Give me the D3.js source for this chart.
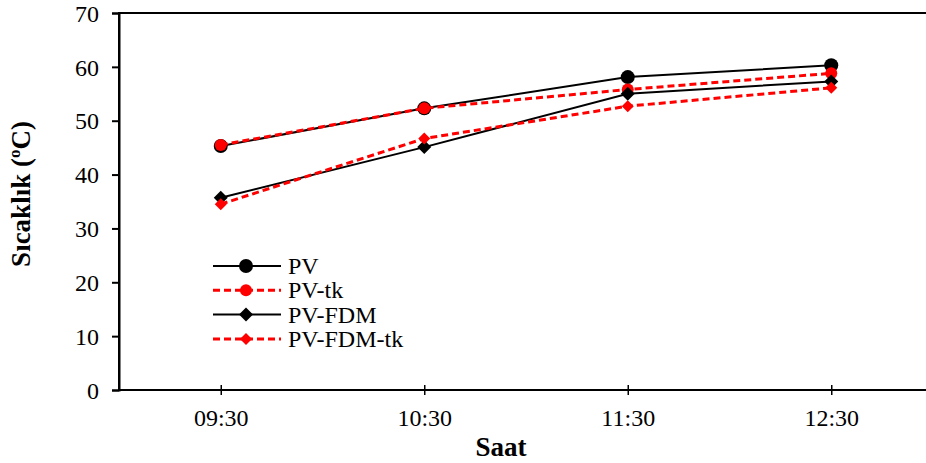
<!DOCTYPE html>
<html>
<head>
<meta charset="utf-8">
<script src="https://cdn.jsdelivr.net/npm/d3@7"></script>
<style>
  body { margin: 0; background: #fff; }
  svg { display: block; }
  svg text { font-family: "Liberation Serif", "Times New Roman", serif; fill: #000; }
</style>
</head>
<body>
<svg id="chart" width="926" height="463"></svg>
<script>
const hours = ['09:30', '10:30', '11:30', '12:30'];
const pv = [45.3, 52.3, 58.1, 60.3];
const pvTk = [45.5, 52.3, 55.8, 58.8];
const pvFdm = [35.7, 45.1, 55.0, 57.3];
const pvFdmTk = [34.5, 46.7, 52.7, 56.1];
const yTicks = [0, 10, 20, 30, 40, 50, 60, 70];

const series = [
  { name: 'PV', values: pv, color: '#000', dash: null, width: 2, shape: 'circle', size: 7 },
  { name: 'PV-tk', values: pvTk, color: '#ff0000', dash: '7,4', width: 3, shape: 'circle', size: 6 },
  { name: 'PV-FDM', values: pvFdm, color: '#000', dash: null, width: 2, shape: 'diamond', size: 7 },
  { name: 'PV-FDM-tk', values: pvFdmTk, color: '#ff0000', dash: '7,4', width: 3, shape: 'diamond', size: 6 },
];

const margin = { top: 13, right: -7, bottom: 73, left: 119 };
const svg = d3.select('#chart');
const width = +svg.attr('width') - margin.left - margin.right;
const height = +svg.attr('height') - margin.top - margin.bottom;
const g = svg.append('g').attr('transform', `translate(${margin.left}, ${margin.top})`);

const x = d3.scalePoint().domain(hours).range([0, width]).padding(0.5);
const y = d3.scaleLinear().domain([0, 70]).range([height, 0]);

// frame
g.append('rect')
  .attr('width', width)
  .attr('height', height)
  .attr('fill', 'none')
  .attr('stroke', '#000')
  .attr('stroke-width', 2);

const yAxis = g.append('g')
  .call(d3.axisLeft(y).tickValues(yTicks).tickSize(7).tickPadding(13));
yAxis.select('.domain').attr('stroke-width', 2);
yAxis.selectAll('.tick line').attr('stroke-width', 2);
yAxis.selectAll('.tick text')
  .attr('font-family', 'Liberation Serif')
  .attr('font-size', 24)
  .attr('dy', '0.34em');

const xAxis = g.append('g')
  .attr('transform', `translate(0, ${height})`)
  .call(d3.axisBottom(x).tickSize(5).tickPadding(14));
xAxis.select('.domain').remove();
xAxis.selectAll('.tick line').attr('y1', -5).attr('stroke-width', 1.5);
xAxis.selectAll('.tick text')
  .attr('font-family', 'Liberation Serif')
  .attr('font-size', 24);

g.append('line')
  .attr('x1', 0).attr('x2', width)
  .attr('y1', height).attr('y2', height)
  .attr('stroke', '#000')
  .attr('stroke-width', 2);

// axis titles
svg.append('text')
  .attr('x', 501)
  .attr('y', 456)
  .attr('text-anchor', 'middle')
  .attr('font-size', 27)
  .attr('font-weight', 'bold')
  .text('Saat');

const yTitle = svg.append('text')
  .attr('transform', 'translate(30, 194) rotate(-90)')
  .attr('text-anchor', 'middle')
  .attr('font-size', 27)
  .attr('font-weight', 'bold');
yTitle.append('tspan').text('Sıcaklık (');
yTitle.append('tspan').attr('font-size', 17).attr('dy', -10).text('o');
yTitle.append('tspan').attr('dy', 10).text('C)');

const line = d3.line()
  .x((d, i) => x(hours[i]))
  .y(d => y(d));

function drawMarker(sel, s, cx, cy) {
  if (s.shape === 'circle') {
    sel.append('circle')
      .attr('cx', cx).attr('cy', cy).attr('r', s.size)
      .attr('fill', s.color);
  } else {
    const r = s.size;
    sel.append('path')
      .attr('d', `M${cx},${cy - r}L${cx + r},${cy}L${cx},${cy + r}L${cx - r},${cy}Z`)
      .attr('fill', s.color);
  }
}

series.forEach((s) => {
  const sg = g.append('g').attr('class', 'series');
  sg.append('path')
    .datum(s.values)
    .attr('fill', 'none')
    .attr('stroke', s.color)
    .attr('stroke-width', s.width)
    .attr('stroke-dasharray', s.dash)
    .attr('d', line);
  s.values.forEach((v, i) => drawMarker(sg, s, x(hours[i]), y(v)));
});

// legend
const legend = svg.append('g').attr('transform', 'translate(213, 266)');
series.forEach((s, i) => {
  const row = legend.append('g').attr('transform', `translate(0, ${i * 24.3})`);
  row.append('line')
    .attr('x1', 0).attr('x2', 68)
    .attr('stroke', s.color)
    .attr('stroke-width', s.width)
    .attr('stroke-dasharray', s.dash);
  drawMarker(row, s, 33, 0);
  row.append('text')
    .attr('x', 75)
    .attr('y', 8)
    .attr('font-size', 24)
    .text(s.name);
});
</script>
</body>
</html>
